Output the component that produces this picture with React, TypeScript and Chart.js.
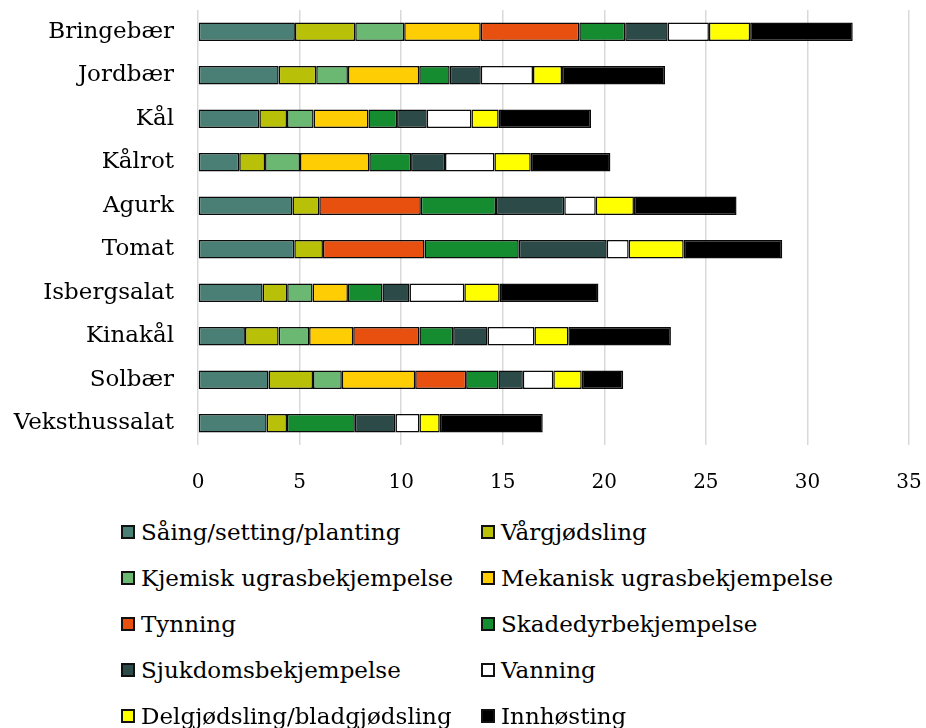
import React, { useEffect, useRef } from "react";
import { Chart, registerables } from "chart.js";

Chart.register(...registerables);

const categories = ["Bringebær", "Jordbær", "Kål", "Kålrot", "Agurk", "Tomat", "Isbergsalat", "Kinakål", "Solbær", "Veksthussalat"];

const seriesNames = [
  "Såing/setting/planting",
  "Vårgjødsling",
  "Kjemisk ugrasbekjempelse",
  "Mekanisk ugrasbekjempelse",
  "Tynning",
  "Skadedyrbekjempelse",
  "Sjukdomsbekjempelse",
  "Vanning",
  "Delgjødsling/bladgjødsling",
  "Innhøsting",
];

const seriesColors = ["#4a7f76", "#b8c107", "#6bb873", "#fecd04", "#e8500f", "#168c31", "#2c4b48", "#ffffff", "#ffff00", "#000000"];

const saaing = [4.77, 3.97, 3.02, 2.03, 4.65, 4.74, 3.18, 2.31, 3.47, 3.38];
const vaargjodsling = [2.97, 1.85, 1.36, 1.27, 1.32, 1.41, 1.21, 1.66, 2.19, 1.0];
const kjemisk = [2.41, 1.56, 1.31, 1.72, null, null, 1.25, 1.5, 1.42, null];
const mekanisk = [3.77, 3.51, 2.7, 3.41, null, null, 1.74, 2.17, 3.61, null];
const tynning = [4.85, null, null, null, 5.0, 5.0, null, 3.26, 2.51, null];
const skadedyr = [2.26, 1.5, 1.41, 2.06, 3.7, 4.64, 1.7, 1.66, 1.59, 3.34];
const sjukdom = [2.09, 1.53, 1.46, 1.67, 3.36, 4.33, 1.33, 1.69, 1.2, 2.0];
const vanning = [2.03, 2.57, 2.2, 2.43, 1.55, 1.08, 2.7, 2.31, 1.5, 1.18];
const delgjodsling = [2.03, 1.43, 1.34, 1.79, 1.88, 2.71, 1.74, 1.67, 1.4, 1.0];
const innhosting = [5.05, 5.07, 4.55, 3.92, 5.05, 4.85, 4.86, 5.05, 2.04, 5.07];

const seriesData = [saaing, vaargjodsling, kjemisk, mekanisk, tynning, skadedyr, sjukdom, vanning, delgjodsling, innhosting];

const xMin = 0;
const xMax = 35;
const xStep = 5;

const FONT = "'DejaVu Serif', Georgia, serif";

export default function App() {
  const canvasRef = useRef<HTMLCanvasElement | null>(null);

  useEffect(() => {
    if (!canvasRef.current) return;
    const chart = new Chart(canvasRef.current, {
      type: "bar",
      data: {
        labels: categories,
        datasets: seriesNames.map((name, i) => ({
          label: name,
          data: seriesData[i] as any,
          backgroundColor: seriesColors[i],
          borderColor: "#0a0a0a",
          borderWidth: 1.5,
          borderSkipped: false as any,
          barPercentage: 0.42,
          categoryPercentage: 1,
        })),
      },
      options: {
        indexAxis: "y",
        animation: false,
        responsive: false,
        maintainAspectRatio: false,
        layout: { padding: { top: 10, right: 17, left: 0, bottom: 0 } },
        plugins: {
          legend: { display: false },
          tooltip: { enabled: false },
          title: { display: false },
        },
        scales: {
          x: {
            stacked: true,
            min: xMin,
            max: xMax,
            ticks: { stepSize: xStep, color: "#000", font: { family: FONT, size: 20 }, padding: 26 },
            grid: { color: "#d9d9d9", lineWidth: 1.5, drawTicks: false },
            border: { display: false },
            afterFit: (scale: any) => {
              scale.height = 55;
              scale.paddingLeft = 0;
              scale.paddingRight = 0;
            },
          },
          y: {
            stacked: true,
            ticks: { color: "#000", font: { family: FONT, size: 23 }, padding: 24 },
            grid: { display: false, drawTicks: false },
            border: { display: false },
            afterFit: (scale: any) => {
              scale.width = 198;
              scale.paddingTop = 0;
              scale.paddingBottom = 0;
            },
          },
        },
      },
    });
    return () => chart.destroy();
  }, []);

  return (
    <div style={{ position: "fixed", left: 0, top: 0, width: 926, height: 728, background: "#fff" }}>
      <canvas ref={canvasRef} width={926} height={500} style={{ display: "block", width: 926, height: 500 }} />
      {seriesNames.map((name, i) => {
        const row = Math.floor(i / 2);
        const col = i % 2;
        const cy = 532 + row * 46;
        const left = col === 0 ? 121 : 481;
        return (
          <div
            key={name}
            style={{
              position: "absolute",
              left,
              top: cy - 16,
              height: 32,
              display: "flex",
              alignItems: "center",
              fontFamily: FONT,
              fontSize: 23,
              color: "#000",
              whiteSpace: "nowrap",
            }}
          >
            <span
              style={{
                display: "inline-block",
                width: 14,
                height: 14,
                boxSizing: "border-box",
                border: "2px solid #111",
                background: seriesColors[i],
                marginRight: 6,
              }}
            />
            <span>{name}</span>
          </div>
        );
      })}
    </div>
  );
}
